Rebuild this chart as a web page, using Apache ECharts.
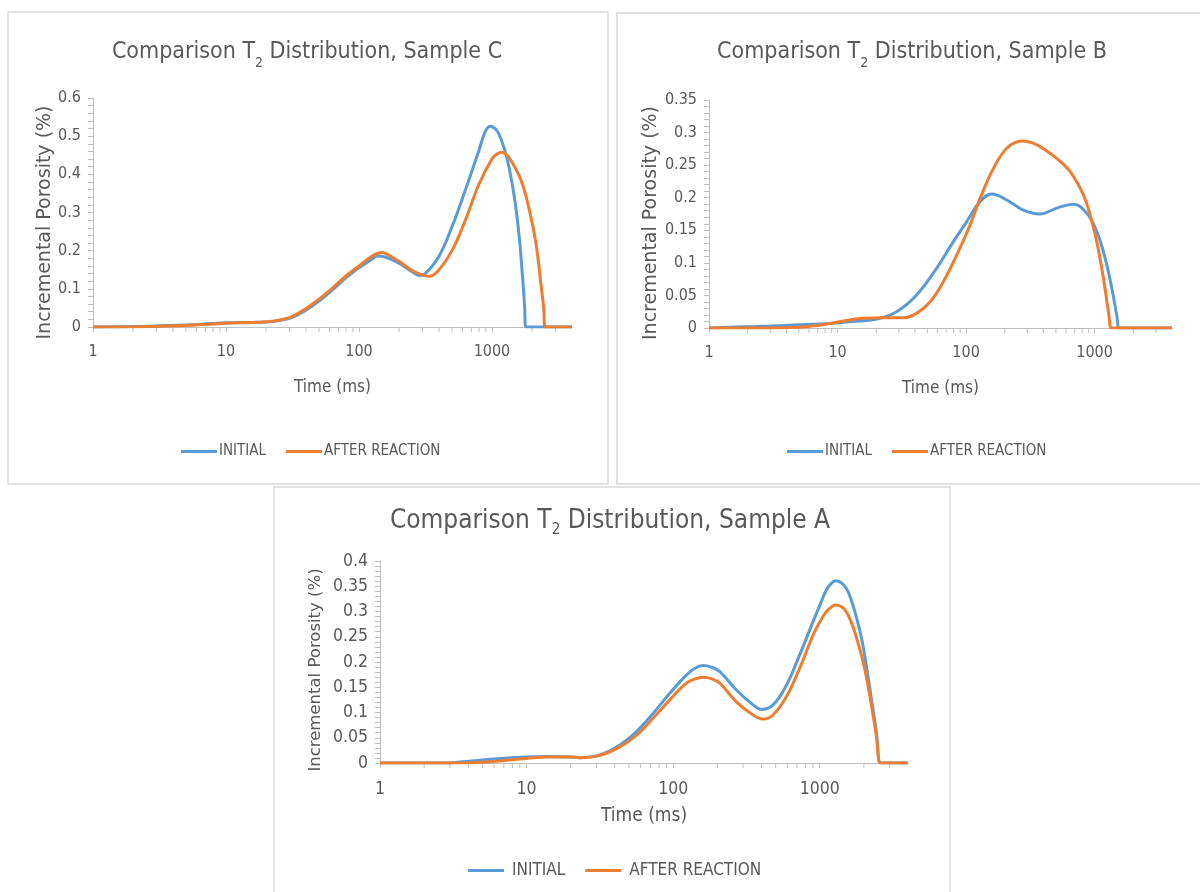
<!DOCTYPE html>
<html><head><meta charset="utf-8">
<script src="https://cdn.jsdelivr.net/npm/echarts@6/dist/echarts.min.js"></script>
<style>html,body{margin:0;padding:0;background:#fff}#c{width:1200px;height:892px}</style>
</head><body><div id="c"></div>
<script>
// ---- data (T2 time in ms, incremental porosity in %) ----
const seriesNames = ['INITIAL', 'AFTER REACTION'];
const xTickLabels = ['1', '10', '100', '1000'];
const minorTickValues = [2,3,4,5,6,7,8,9,20,30,40,50,60,70,80,90,200,300,400,500,600,700,800,900,2000,3000];

// Sample C
const cInitT = [1,2,3.16,5,7.9,10,15.8,20,25.1,31.6,39.8,50.1,63.1,79.4,100,126,138,158,200,251,288,316,398,501,631,794,891,971,1070,1167,1309,1472,1603,1698,1760,1799,2000,4000];
const cInitV = [0,0.001,0.003,0.005,0.009,0.011,0.012,0.013,0.017,0.025,0.044,0.068,0.097,0.128,0.155,0.178,0.186,0.183,0.167,0.145,0.135,0.14,0.184,0.263,0.359,0.46,0.512,0.526,0.518,0.494,0.437,0.341,0.237,0.132,0.055,0,0,0];
const cAftT = [1,2,3.16,5,7.9,10,15.8,20,25.1,31.6,39.8,50.1,63.1,79.4,100,126,148,158,200,251,316,339,398,501,631,794,1000,1090,1189,1290,1387,1652,1910,2143,2333,2450,2518,2700,4000];
const cAftV = [0,0.0005,0.002,0.004,0.008,0.01,0.012,0.014,0.018,0.028,0.048,0.073,0.102,0.133,0.16,0.186,0.195,0.193,0.172,0.148,0.134,0.133,0.149,0.2,0.28,0.372,0.44,0.453,0.458,0.451,0.437,0.385,0.307,0.219,0.114,0.05,0,0,0];

// Sample B
const bInitT = [1,2,3,5,7,8.75,13,20.2,28.8,41.2,59,79.6,101,128.5,158.5,207.5,279,377,508,685,871,1040,1208,1361,1486,1560,1700,4000];
const bInitV = [0,0.002,0.003,0.005,0.006,0.007,0.01,0.0138,0.025,0.0507,0.0916,0.1325,0.163,0.194,0.2057,0.1965,0.181,0.175,0.184,0.19,0.176,0.148,0.107,0.061,0.02,0,0,0];
const bAftT = [1,3,5,7,8.75,15.8,22.8,32.5,41.2,52.4,66.5,84.5,107.4,128.5,163.3,207.5,271.6,355.6,508,645.7,820,924.7,1040,1172,1282,1361,1500,4000];
const bAftV = [0,0,0.001,0.004,0.007,0.0149,0.0158,0.0158,0.0225,0.04,0.071,0.112,0.158,0.199,0.245,0.276,0.287,0.281,0.26,0.24,0.204,0.173,0.132,0.076,0.025,0,0,0];

// Sample A
const aInitT = [1,2.8,3.5,6,10,14,20,23.1,31.6,43.3,56.2,72.9,94.8,123,140,160,182,208,270,351,400,480,592,729,900,1000,1109,1200,1282,1400,1517,1640,1774,1919,2023,2249,2432,2600,2800,4000];
const aInitV = [0,0,0.002,0.008,0.012,0.013,0.012,0.0106,0.016,0.0356,0.062,0.098,0.138,0.174,0.187,0.193,0.19,0.181,0.1446,0.115,0.106,0.115,0.154,0.214,0.28,0.312,0.3426,0.3556,0.361,0.357,0.346,0.323,0.29,0.25,0.214,0.128,0.062,0,0,0];
const aAftT = [1,3.5,6,10,14,20,23.1,31.6,43.3,56.2,72.9,94.8,123,140,160,182,208,270,351,410,480,592,729,900,1000,1109,1200,1282,1400,1517,1640,1774,2023,2249,2432,2600,2800,4000];
const aAftV = [0,0,0.003,0.009,0.012,0.012,0.0106,0.015,0.032,0.055,0.0885,0.125,0.158,0.166,0.17,0.167,0.158,0.121,0.095,0.087,0.095,0.131,0.1875,0.253,0.279,0.2996,0.309,0.313,0.31,0.2996,0.279,0.25,0.1875,0.115,0.055,0,0,0];

// ---- styling ----
const BLUE = '#5B9BD5', ORANGE = '#ED7D31', TXT = '#595959', AX = '#bfbfbf';
const NARROW = "'Liberation Sans Narrow','DejaVu Sans Condensed','Open Sans',sans-serif";
const WIDE = "Verdana,'DejaVu Sans',sans-serif";
const pair = (t, v) => t.map((x, i) => [x, v[i]]);

const panels = [
  {title: 'Sample C', grid: {left: 93, top: 98, width: 479, height: 229}, yMax: 0.6, yInt: 0.1,
   titleX: 307, titleY: 56, legendX: 181, legendY: 444, xNameGap: 52, yNameGap: 37, yNameShift: 20, legendPad: -3,
   fs: {title: 23, sub: 14, legend: 15, tick: 16, xname: 17, yname: 19},
   init: pair(cInitT, cInitV), aft: pair(cAftT, cAftV)},
  {title: 'Sample B', grid: {left: 709, top: 100, width: 463, height: 228}, yMax: 0.35, yInt: 0.05,
   titleX: 912, titleY: 56, legendX: 787, legendY: 444, xNameGap: 52, yNameGap: 37, yNameShift: 18, legendPad: -3,
   fs: {title: 23, sub: 14, legend: 15, tick: 16, xname: 17, yname: 19},
   init: pair(bInitT, bInitV), aft: pair(bAftT, bAftV)},
  {title: 'Sample A', grid: {left: 380, top: 561, width: 528, height: 202}, yMax: 0.4, yInt: 0.05,
   titleX: 610, titleY: 523, legendX: 468, legendY: 862, xNameGap: 44, yNameGap: 56, yNameShift: 16, legendPad: 3,
   fs: {title: 26, sub: 15, legend: 17, tick: 17.5, xname: 19, yname: 16.5},
   init: pair(aInitT, aInitV), aft: pair(aAftT, aAftV)}
];

const option = {
  animation: false,
  backgroundColor: '#fff',
  title: [], legend: [], grid: [], xAxis: [], yAxis: [], series: [],
  graphic: [
    {type: 'rect', shape: {x: 8, y: 12, width: 600, height: 472}, style: {fill: 'none', stroke: '#d9d9d9', lineWidth: 1.5}, silent: true},
    {type: 'rect', shape: {x: 617, y: 13, width: 584, height: 471}, style: {fill: 'none', stroke: '#d9d9d9', lineWidth: 1.5}, silent: true},
    {type: 'rect', shape: {x: 274, y: 487, width: 676, height: 410}, style: {fill: 'none', stroke: '#d9d9d9', lineWidth: 1.5}, silent: true}
  ]
};

panels.forEach((p, i) => {
  option.title.push({
    text: '{a|Comparison T}{s|2}{a| Distribution, ' + p.title + '}',
    left: p.titleX, top: p.titleY, textAlign: 'center', textVerticalAlign: 'middle', padding: 0,
    textStyle: {fontWeight: 'normal', rich: {
      a: {fontFamily: NARROW, fontSize: p.fs.title, fontWeight: 'normal', color: TXT, lineHeight: 30, verticalAlign: 'top'},
      s: {fontFamily: NARROW, fontSize: p.fs.sub, fontWeight: 'normal', color: TXT, lineHeight: 18, verticalAlign: 'top', padding: [15, 0, 0, 0]}
    }}
  });
  option.legend.push({
    data: seriesNames, left: p.legendX, top: p.legendY, padding: 0, icon: 'rect', itemWidth: 36, itemHeight: 3,
    itemGap: 20, selectedMode: false,
    textStyle: {fontFamily: NARROW, fontSize: p.fs.legend, color: TXT, padding: [0, 0, 0, p.legendPad]}
  });
  option.grid.push(Object.assign({containLabel: false}, p.grid));
  option.xAxis.push({
    type: 'log', logBase: 10, gridIndex: i, min: 1, max: 4000,
    name: 'Time (ms)', nameLocation: 'middle', nameGap: p.xNameGap,
    nameTextStyle: {fontFamily: NARROW, fontSize: p.fs.xname, color: TXT},
    axisLine: {show: true, onZero: false, lineStyle: {color: AX, width: 1}},
    axisTick: {show: true, length: 5, lineStyle: {color: AX}},
    axisLabel: {fontFamily: NARROW, fontSize: p.fs.tick, color: TXT, margin: 17, showMaxLabel: false,
      formatter: v => { const s = String(Math.round(v)); return xTickLabels.indexOf(s) >= 0 ? s : ''; }},
    splitLine: {show: false}, minorTick: {show: false}
  });
  option.yAxis.push({
    type: 'value', gridIndex: i, min: 0, max: p.yMax, interval: p.yInt,
    name: 'Incremental Porosity (%)', nameLocation: 'middle', nameGap: p.yNameGap, nameRotate: 90,
    nameTextStyle: {fontFamily: WIDE, fontSize: p.fs.yname, color: TXT, padding: [0, p.yNameShift, 0, 0]},
    axisLine: {show: true, lineStyle: {color: AX, width: 1}},
    axisTick: {show: true, length: 5, lineStyle: {color: AX}},
    minorTick: {show: true, splitNumber: 5, length: 5, lineStyle: {color: AX}},
    axisLabel: {fontFamily: NARROW, fontSize: p.fs.tick, color: TXT, margin: 12},
    splitLine: {show: false}
  });
  option.series.push({
    type: 'custom', name: 'minorTicks', xAxisIndex: i, yAxisIndex: i, silent: true, clip: false, z: 1,
    data: minorTickValues.map(v => [v, 0]),
    renderItem: (params, api) => {
      const pt = api.coord([api.value(0), 0]);
      return {type: 'line', shape: {x1: pt[0], y1: pt[1], x2: pt[0], y2: pt[1] + 5}, style: {stroke: AX, lineWidth: 1}};
    }
  });
  option.series.push({
    type: 'line', name: 'INITIAL', xAxisIndex: i, yAxisIndex: i, data: p.init, smooth: 0.4,
    showSymbol: false, symbol: 'none', lineStyle: {color: BLUE, width: 3}, itemStyle: {color: BLUE}, z: 3
  });
  option.series.push({
    type: 'line', name: 'AFTER REACTION', xAxisIndex: i, yAxisIndex: i, data: p.aft, smooth: 0.4,
    showSymbol: false, symbol: 'none', lineStyle: {color: ORANGE, width: 3}, itemStyle: {color: ORANGE}, z: 4
  });
});

const chart = echarts.init(document.getElementById('c'), null, {renderer: 'canvas'});
chart.setOption(option);
</script></body></html>
